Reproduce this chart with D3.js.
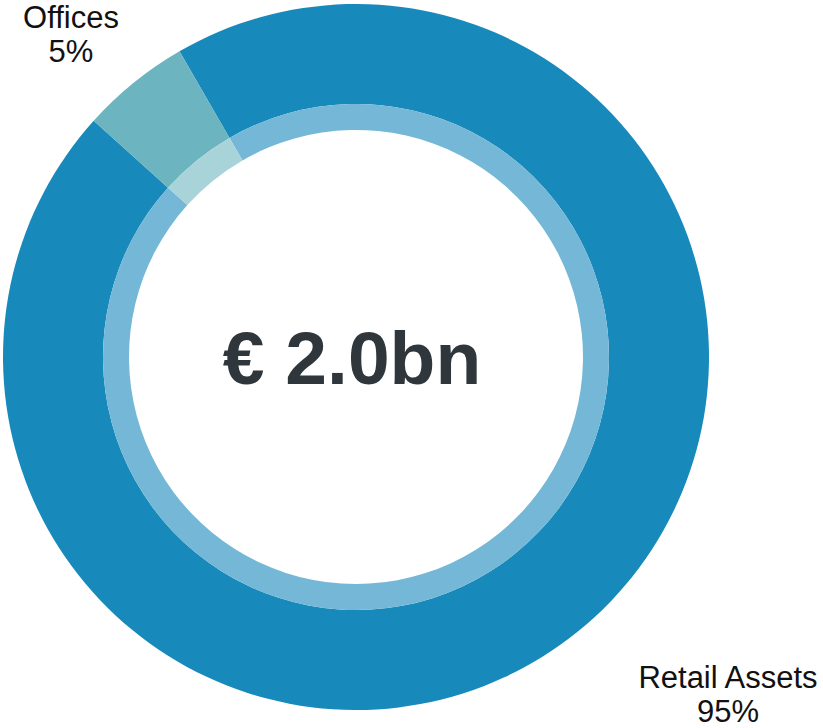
<!DOCTYPE html>
<html>
<head>
<meta charset="utf-8">
<script src="https://cdn.jsdelivr.net/npm/d3@7"></script>
<style>
  html, body { margin: 0; padding: 0; background: #fff; }
  svg { display: block; }
  text { font-family: "Liberation Sans", Arial, sans-serif; }
</style>
</head>
<body>
<svg id="chart" width="823" height="728"></svg>
<script>
// Portfolio split by asset type
const categories = ["Retail Assets", "Offices"];
const shares = [95, 5];
const shareLabels = ["95%", "5%"];
const totalLabel = "€ 2.0bn";

const outerColors = ["#1789BB", "#6CB4BF"];
const innerColors = ["#74B7D6", "#A8D3D9"];

const svg = d3.select("#chart");
const cx = 356, cy = 357;
const rOuter = 353, rBand = 253, rInner = 227;

const g = svg.append("g").attr("transform", `translate(${cx},${cy})`);

const pie = d3.pie()
  .sort(null)
  .startAngle(-30 * Math.PI / 180)
  .endAngle(330 * Math.PI / 180);
const arcs = pie(shares);

const outerArc = d3.arc().innerRadius(rBand).outerRadius(rOuter);
const bandArc = d3.arc().innerRadius(rInner).outerRadius(rBand);

g.selectAll("path.outer").data(arcs).join("path")
  .attr("class", "outer")
  .attr("d", outerArc)
  .attr("fill", (d, i) => outerColors[i]);

g.selectAll("path.band").data(arcs).join("path")
  .attr("class", "band")
  .attr("d", bandArc)
  .attr("fill", (d, i) => innerColors[i]);

// Centre total
g.append("text")
  .attr("x", -4).attr("y", 27)
  .attr("text-anchor", "middle")
  .attr("font-size", 75)
  .attr("font-weight", "bold")
  .attr("fill", "#2F373C")
  .text(totalLabel);

// Category labels
const labelPos = [[728, 688], [71, 28]];
categories.forEach((c, i) => {
  const t = svg.append("text")
    .attr("x", labelPos[i][0]).attr("y", labelPos[i][1])
    .attr("text-anchor", "middle")
    .attr("font-size", 31)
    .attr("fill", "#111");
  t.append("tspan").attr("x", labelPos[i][0]).text(c);
  t.append("tspan").attr("x", labelPos[i][0]).attr("dy", 34).text(shareLabels[i]);
});
</script>
</body>
</html>
